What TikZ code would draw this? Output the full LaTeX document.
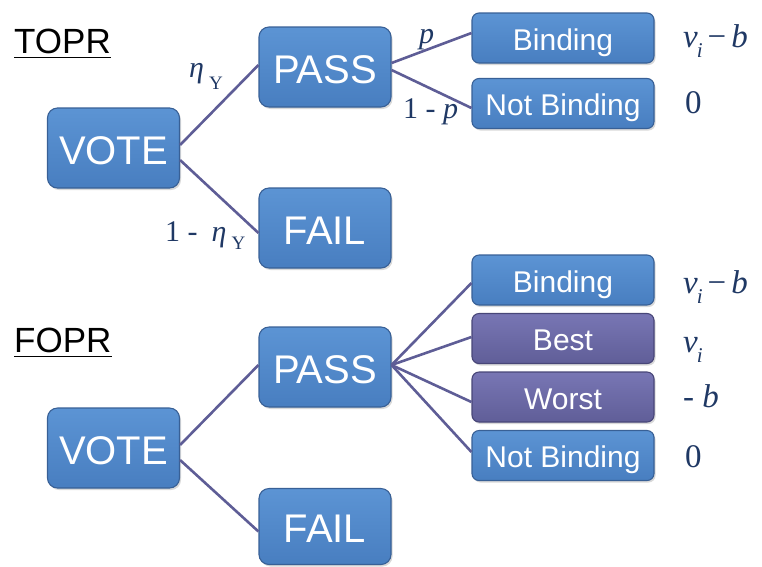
\documentclass[tikz,border=0pt]{standalone}
\usepackage{fontspec}
\setmainfont{Liberation Sans}
\newfontfamily\mserif{Liberation Serif}
\usetikzlibrary{shadows}
\definecolor{bluetop}{RGB}{92,148,212}
\definecolor{bluebot}{RGB}{72,126,192}
\definecolor{blueline}{RGB}{56,96,150}
\definecolor{purtop}{RGB}{120,118,180}
\definecolor{purbot}{RGB}{96,94,152}
\definecolor{purline}{RGB}{72,70,120}
\definecolor{conn}{RGB}{94,93,150}
\definecolor{mathc}{RGB}{31,56,100}
\tikzset{
  boxbase/.style={draw, line width=1.1pt, inner sep=0pt, text=white,
    drop shadow={opacity=0.3, shadow xshift=1.5pt, shadow yshift=-2pt}},
  bluebox/.style={boxbase, draw=blueline, top color=bluetop, bottom color=bluebot},
  purbox/.style={boxbase, draw=purline, top color=purtop, bottom color=purbot},
  bigbox/.style={rounded corners=10pt, minimum width=132pt, minimum height=80pt,
    text height=32pt, text depth=0pt, font=\fontsize{40}{44}\selectfont},
  smallbox/.style={rounded corners=7pt, minimum width=182pt, minimum height=50pt,
    text height=24pt, text depth=0pt, font=\fontsize{30}{34}\selectfont},
  conn/.style={draw=conn, line width=2.6pt},
  title/.style={anchor=base west, inner sep=0pt, font=\fontsize{35}{40}\selectfont},
  mlabel/.style={anchor=base west, inner sep=0pt, text=mathc,
    font=\mserif\fontsize{33}{36}\selectfont},
  plabel/.style={anchor=base west, inner sep=0pt, text=mathc,
    font=\mserif\fontsize{30}{34}\selectfont}
}
\newcommand{\subtxt}[2]{\raisebox{#1}{\fontsize{21}{22}\selectfont #2}}
\begin{document}
\begin{tikzpicture}[x=1pt,y=-1pt]
\useasboundingbox (0,0) rectangle (762,566);

% ---------- TOPR ----------
\node[title] (toprt) at (14,53) {TOPR};
\draw[line width=1.6pt] ([yshift=-4.5pt]toprt.base west) -- ([yshift=-4.5pt]toprt.base east);

\node[bluebox,bigbox] (tvote) at (113.5,148) {VOTE};
\node[bluebox,bigbox] (tpass) at (325,67) {PASS};
\node[bluebox,bigbox] (tfail) at (325,228) {FAIL};
\node[bluebox,smallbox] (tbind) at (563,38) {Binding};
\node[bluebox,smallbox] (tnbind) at (563,103.5) {Not Binding};

\draw[conn] ([yshift=3pt]tvote.east) -- ([yshift=2pt]tpass.west);
\draw[conn] ([yshift=-12pt]tvote.east) -- ([yshift=-5pt]tfail.west);
\draw[conn] ([yshift=4pt]tpass.east) -- ([yshift=5pt]tbind.west);
\draw[conn] ([yshift=-3pt]tpass.east) -- ([yshift=-4.5pt]tnbind.west);

\node[plabel] (leta) at (189,77) {\itshape η\hspace{5pt}\upshape\fontsize{19}{20}\selectfont\raisebox{-12pt}{Y}};
\node[plabel] (lneta) at (165,241) {1 -\hspace{14pt}\itshape η\hspace{5pt}\upshape\fontsize{19}{20}\selectfont\raisebox{-8pt}{Y}};
\node[plabel] (lp) at (419,43) {\itshape p};
\node[plabel] (lnp) at (403,118) {1 - \itshape p};

\node[mlabel] (tv1) at (683,47) {\itshape v\hspace{-1pt}\subtxt{-10pt}{i}\hspace{5pt}\upshape −\hspace{5pt}\itshape b};
\node[mlabel] (tv2) at (685,113) {0};

% ---------- FOPR ----------
\node[title] (foprt) at (14,352) {FOPR};
\draw[line width=1.6pt] ([yshift=-4.5pt]foprt.base west) -- ([yshift=-4.5pt]foprt.base east);

\node[bluebox,bigbox] (fvote) at (113.5,448) {VOTE};
\node[bluebox,bigbox] (fpass) at (325,367) {PASS};
\node[bluebox,bigbox,minimum height=76pt] (ffail) at (325,526.5) {FAIL};
\node[bluebox,smallbox] (fbind) at (563,280) {Binding};
\node[purbox,smallbox] (fbest) at (563,338.5) {Best};
\node[purbox,smallbox] (fworst) at (563,397) {Worst};
\node[bluebox,smallbox] (fnbind) at (563,455.5) {Not Binding};

\draw[conn] ([yshift=3pt]fvote.east) -- ([yshift=2pt]fpass.west);
\draw[conn] ([yshift=-12pt]fvote.east) -- ([yshift=-5pt]ffail.west);
\draw[conn] ([yshift=2pt]fpass.east) -- ([yshift=-3pt]fbind.west);
\draw[conn] ([yshift=2pt]fpass.east) -- ([yshift=1.5pt]fbest.west);
\draw[conn] ([yshift=2pt]fpass.east) -- ([yshift=-5pt]fworst.west);
\draw[conn] ([yshift=2pt]fpass.east) -- ([yshift=3.5pt]fnbind.west);

\node[mlabel] (fv1) at (683,293) {\itshape v\hspace{-1pt}\subtxt{-10pt}{i}\hspace{5pt}\upshape −\hspace{5pt}\itshape b};
\node[mlabel] (fv2) at (683,352) {\itshape v\hspace{-1pt}\subtxt{-10pt}{i}};
\node[mlabel] (fv3) at (683,407) {- \itshape b};
\node[mlabel] (fv4) at (685,467) {0};
\end{tikzpicture}
\end{document}
